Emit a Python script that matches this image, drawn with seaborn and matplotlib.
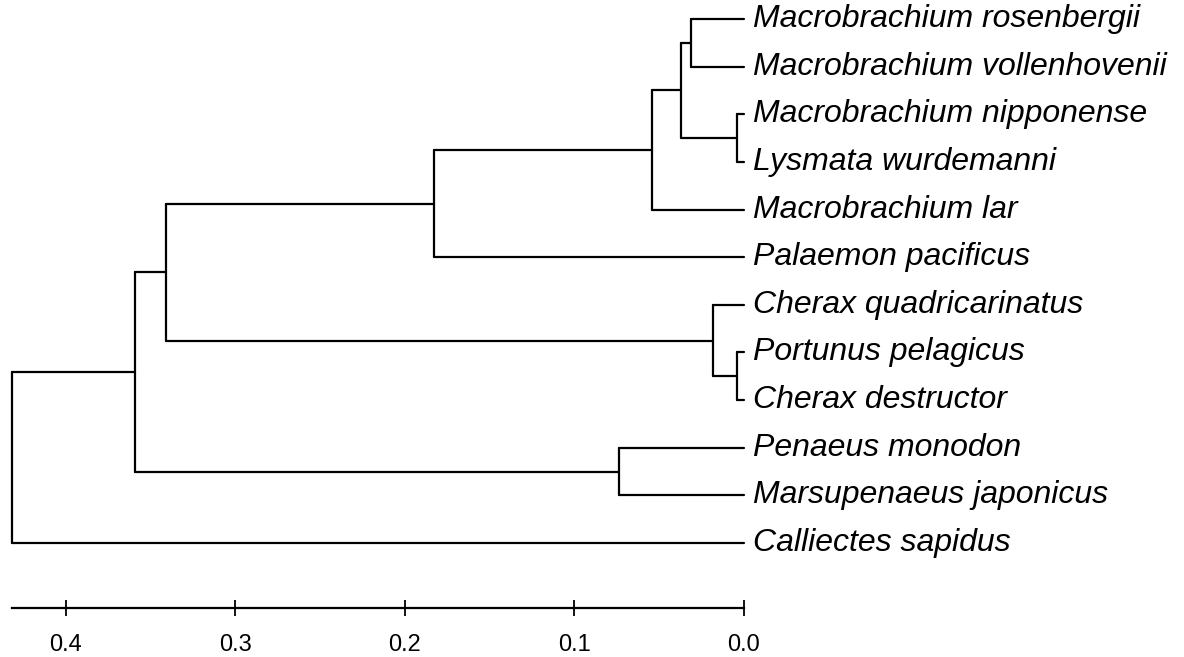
import matplotlib
matplotlib.use("Agg")
import matplotlib.pyplot as plt
import seaborn as sns
import pandas as pd

# Leaf order, top to bottom
leaves = [
    "Macrobrachium rosenbergii",
    "Macrobrachium vollenhovenii",
    "Macrobrachium nipponense",
    "Lysmata wurdemanni",
    "Macrobrachium lar",
    "Palaemon pacificus",
    "Cherax quadricarinatus",
    "Portunus pelagicus",
    "Cherax destructor",
    "Penaeus monodon",
    "Marsupenaeus japonicus",
    "Calliectes sapidus",
]

# Merges: (child a, child b, node height); "m<k>" refers to merge k
merge_a = ["Macrobrachium rosenbergii", "Macrobrachium nipponense", "m0", "m2", "m3",
           "Portunus pelagicus", "Cherax quadricarinatus", "m4", "Penaeus monodon", "m7", "m9"]
merge_b = ["Macrobrachium vollenhovenii", "Lysmata wurdemanni", "m1", "Macrobrachium lar",
           "Palaemon pacificus", "Cherax destructor", "m5", "m6", "Marsupenaeus japonicus",
           "m8", "Calliectes sapidus"]
merge_h = [0.031, 0.004, 0.037, 0.054, 0.183, 0.004, 0.018, 0.341, 0.074, 0.359, 0.432]

scale_ticks = [0.4, 0.3, 0.2, 0.1, 0.0]

# Node positions
pos = {name: (0.0, float(i)) for i, name in enumerate(leaves)}
rows = []
seg = 0
for k, (a, b, h) in enumerate(zip(merge_a, merge_b, merge_h)):
    xa, ya = pos[a]
    xb, yb = pos[b]
    for (x0, y0, x1, y1) in [(xa, ya, h, ya), (xb, yb, h, yb), (h, ya, h, yb)]:
        rows.append({"seg": seg, "x": x0, "y": y0})
        rows.append({"seg": seg, "x": x1, "y": y1})
        seg += 1
    pos[f"m{k}"] = (h, (ya + yb) / 2)
segs = pd.DataFrame(rows)

sns.set_style("white")
plt.rcParams["font.family"] = ["Liberation Sans", "DejaVu Sans"]

fig = plt.figure(figsize=(11.84, 6.57), dpi=100)
ax = fig.add_axes([0, 0, 1, 1])

sns.lineplot(data=segs, x="x", y="y", units="seg", estimator=None, sort=False,
             color="black", linewidth=1.6, ax=ax, legend=False)

for i, name in enumerate(leaves):
    ax.text(-0.0052, i, name, ha="left", va="center", style="italic",
            fontsize=23, color="black")

ax.set_xlim(0.4389, -0.2596)
ax.set_ylim(13.392, -0.399)

# scale bar as the bottom spine
for s in ["top", "right", "left"]:
    ax.spines[s].set_visible(False)
ax.spines["bottom"].set_position(("data", 12.364))
ax.spines["bottom"].set_bounds(merge_h[-1], 0.0)
ax.spines["bottom"].set_linewidth(1.6)
ax.spines["bottom"].set_color("black")
ax.set_xticks(scale_ticks)
ax.set_xticklabels([f"{t:.1f}" for t in scale_ticks])
ax.tick_params(axis="x", direction="inout", length=12, width=1.3, pad=13,
               labelsize=17, colors="black", bottom=True)
ax.set_yticks([])
ax.set_xlabel("")
ax.set_ylabel("")

fig.savefig("out.png", dpi=100)
